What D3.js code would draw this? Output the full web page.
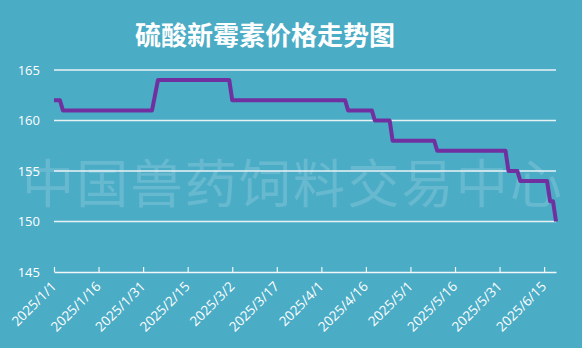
<!DOCTYPE html>
<html><head><meta charset="utf-8">
<script src="https://cdn.jsdelivr.net/npm/d3@7"></script>
<style>body{margin:0;background:#4bacc6;}svg{display:block;}</style>
</head><body>
<script>
const title = "硫酸新霉素价格走势图";
const watermark = "中国兽药饲料交易中心";
const dates = ["2025-01-01","2025-01-03","2025-01-04","2025-02-03","2025-02-05","2025-03-01","2025-03-02","2025-04-09","2025-04-10","2025-04-18","2025-04-19","2025-04-24","2025-04-25","2025-05-09","2025-05-10","2025-06-02","2025-06-03","2025-06-06","2025-06-07","2025-06-16","2025-06-17","2025-06-18","2025-06-19"];
const prices = [162,162,161,161,164,164,162,162,161,161,160,160,158,158,157,157,155,155,154,154,152,152,150];
const yTicks = [145,150,155,160,165];
const xTickLabels = ["2025/1/1","2025/1/16","2025/1/31","2025/2/15","2025/3/2","2025/3/17","2025/4/1","2025/4/16","2025/5/1","2025/5/16","2025/5/31","2025/6/15"];

const W = 582, H = 348;
const parse = d3.timeParse("%Y-%m-%d");
const data = dates.map((d,i)=>({date: parse(d), value: prices[i]}));
const svg = d3.select("body").append("svg").attr("width",W).attr("height",H);
svg.append("rect").attr("width",W).attr("height",H).attr("fill","#4bacc6");

const x = d3.scaleTime().domain([parse("2025-01-01"), parse("2025-06-19")]).range([54,556]);
const y = d3.scaleLinear().domain([145,165]).range([272,70]);

// title
svg.append("text").attr("x",265).attr("y",45).attr("text-anchor","middle")
  .attr("fill","#ffffff").attr("font-size",26).attr("font-weight","bold")
  .attr("font-family","'Noto Sans CJK SC', sans-serif").text(title);

// watermark
svg.append("text").attr("x",292).attr("y",203).attr("text-anchor","middle")
  .attr("fill","#ffffff").attr("fill-opacity",0.16).attr("font-size",52)
  .attr("textLength",540).attr("lengthAdjust","spacing")
  .attr("font-family","'Noto Sans CJK SC', sans-serif").text(watermark);

// gridlines
svg.append("g").selectAll("line").data(yTicks.filter(t=>t!==145)).join("line")
  .attr("x1",54).attr("x2",556).attr("y1",d=>y(d)).attr("y2",d=>y(d))
  .attr("stroke","#e8f2f5").attr("stroke-width",1.5);

// y axis labels
const yAxis = d3.axisLeft(y).tickValues(yTicks).tickSize(0).tickPadding(14);
const gy = svg.append("g").attr("transform","translate(54,0)").call(yAxis);
gy.select(".domain").remove();
gy.selectAll("text").attr("fill","#ffffff").attr("font-size",13)
  .attr("font-family","'Open Sans', 'Noto Sans', sans-serif");

// x axis
const tickDates = xTickLabels.map(s=>d3.timeParse("%Y/%m/%d")(s));
const xAxis = d3.axisBottom(x).tickValues(tickDates).tickSizeInner(-5).tickSizeOuter(0)
  .tickFormat(d=>`${d.getFullYear()}/${d.getMonth()+1}/${d.getDate()}`);
const gx = svg.append("g").attr("transform","translate(0,272)").call(xAxis);
gx.select(".domain").attr("stroke","#f0f7f9").attr("stroke-width",1.5);
gx.selectAll(".tick line").attr("stroke","#f0f7f9").attr("stroke-width",1.2);
gx.selectAll("text").attr("fill","#ffffff").attr("font-size",13.5)
  .attr("font-family","'Open Sans', 'Noto Sans', sans-serif")
  .attr("text-anchor","end").attr("dx",0).attr("dy","0.35em")
  .attr("transform","rotate(-45)").attr("y",8).attr("x",-9);

// line
const line = d3.line().x(d=>x(d.date)).y(d=>y(d.value));
svg.append("path").datum(data).attr("d",line).attr("fill","none")
  .attr("stroke","#7030a0").attr("stroke-width",4).attr("stroke-linejoin","round");
</script>
</body></html>
